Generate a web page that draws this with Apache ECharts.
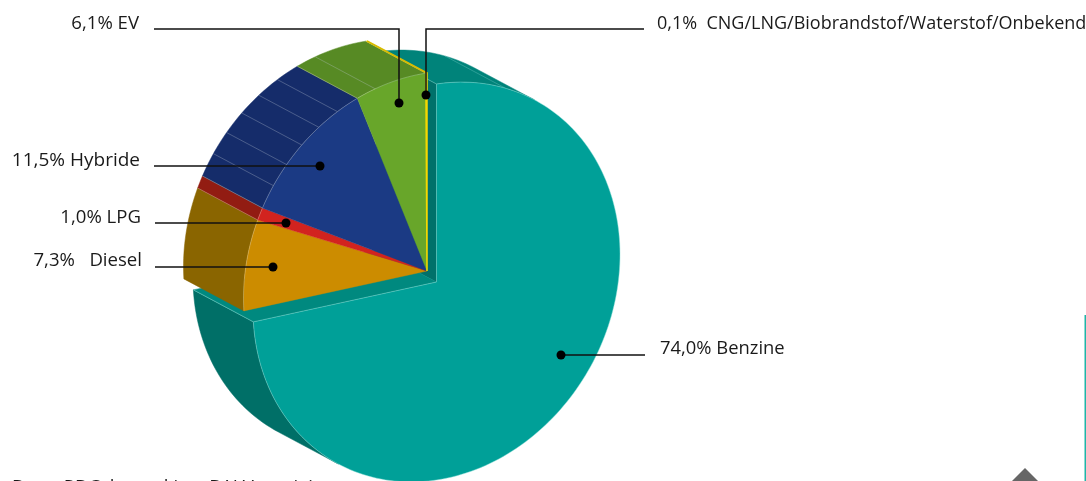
<!DOCTYPE html>
<html><head><meta charset="utf-8">
<style>html,body{margin:0;padding:0;background:#fff}#c{width:1086px;height:481px}</style>
<script src="https://cdn.jsdelivr.net/npm/echarts@6/dist/echarts.min.js"></script>
</head><body><div id="c"></div>
<script>
// Data
const categories = ['Benzine','Diesel','LPG','Hybride','EV','CNG/LNG/Biobrandstof/Waterstof/Onbekend'];
const shares = [74.0, 7.3, 1.0, 11.5, 6.1, 0.1];
const labels = ['74,0% Benzine','7,3%   Diesel','1,0% LPG','11,5% Hybride','6,1% EV','0,1%  CNG/LNG/Biobrandstof/Waterstof/Onbekend'];
const topColors = ['#00a098','#cc8c00','#d2231f','#1b3a84','#68a62a','#f5d800'];
const wallColors = ['#006f67','#8a6500','#921c12','#152c6a','#578a24','#d8bc00'];
const ribs = [[],[],[],[1/6,2/6,3/6,4/6,5/6],[0.27],[]];

// Projection of the tilted disc
const RX=183.5, RY=198, SK=27.5, DX=-60, DY=-32, C0=[427,271], C1=[436.5,282];
const rad=d=>d*Math.PI/180;
const pt=(c,t)=>[c[0]+RX*Math.sin(rad(t)), c[1]-RY*Math.cos(rad(t))-SK*Math.sin(rad(t))];
const shift=p=>[p[0]+DX,p[1]+DY];
const arc=(c,a,b)=>{const n=Math.max(2,Math.ceil(Math.abs(b-a)/1.5));const o=[];for(let i=0;i<=n;i++)o.push(pt(c,a+(b-a)*i/n));return o;};
const poly=(points,fill,stroke,w)=>({type:'polygon',shape:{points},style:{fill,stroke:stroke||fill,lineWidth:w===undefined?0.5:w}});
const line=(a,b,stroke,w)=>({type:'polyline',shape:{points:[a,b]},style:{fill:'none',stroke,lineWidth:w||0.8}});
const wall=(c,a,b,fill,stroke)=>{const f=arc(c,a,b);return poly(f.concat(f.map(shift).reverse()),fill,stroke);};
const total=shares.reduce((s,v)=>s+v,0);

function renderSlice(params,api){
  const i=params.dataIndex, v=api.value(0);
  let before=0; for(let k=0;k<i;k++) before+=shares[k];
  const a=before/total*360, b=(before+v)/total*360;
  const ch=[];
  if(i===0){
    const start=pt(C1,0), end=pt(C1,b);
    ch.push(poly([start,C1,shift(C1),shift(start)],'#00716a'));
    ch.push(wall(C1,0,32.3,'#00837a'));
    ch.push(wall(C1,212.3,b,wallColors[0]));
    ch.push(poly([C1,end,shift(end),shift(C1)],'#00897f'));
    ch.push(line(pt(C1,22),shift(pt(C1,22)),'rgba(120,210,200,.5)',0.7));
    ch.push(line(start,shift(start),'rgba(150,220,210,.6)',0.7));
    ch.push(line(end,shift(end),'rgba(150,225,215,.7)',0.7));
    ch.push(poly([C1].concat(arc(C1,a,b)),topColors[0],'rgba(140,225,215,.65)',0.7));
  } else {
    ch.push(wall(C0,a,b,wallColors[i]));
    ribs[i].forEach(f=>{const t=a+(b-a)*f;const p=pt(C0,t);ch.push(line(p,shift(p),'rgba(190,200,215,.45)',0.7));});
    if(i>1) ch.push(line(pt(C0,a),shift(pt(C0,a)),'rgba(235,225,190,.55)',0.6));
    if(i===5){
      ch.push(line(pt(C0,b),shift(pt(C0,b)),'#d8bc00',1.6));
      ch.push(poly([C0].concat(arc(C0,a,b)),topColors[i],topColors[i],1.5));
    } else {
      ch.push(poly([C0].concat(arc(C0,a,b)),topColors[i],topColors[i],0.4));
      ch.push({type:'polyline',shape:{points:arc(C0,a,b)},style:{fill:'none',stroke:'rgba(235,235,225,.45)',lineWidth:0.6}});
    }
  }
  return {type:'group',children:ch};
}

const leaders=[
  {i:4,tx:139,ty:24,size:18.6,align:'right',path:[[154,29],[399,29],[399,103]]},
  {i:5,tx:657,ty:24,size:18,align:'left',path:[[644,29],[426,29],[426,95]]},
  {i:3,tx:140,ty:161,size:19,align:'right',path:[[154,166],[320,166]]},
  {i:2,tx:141,ty:218,size:18.6,align:'right',path:[[155,223],[286,223]]},
  {i:1,tx:142,ty:261,size:18.6,align:'right',path:[[155,267],[273,267]]},
  {i:0,tx:660,ty:349,size:18.4,align:'left',path:[[645,355],[561,355]]}
];
const FONT='"Open Sans", sans-serif';
const gfx=[];
leaders.forEach(l=>{
  gfx.push({type:'polyline',z:20,silent:true,shape:{points:l.path},style:{fill:'none',stroke:'#111',lineWidth:1.5}});
  const e=l.path[l.path.length-1];
  gfx.push({type:'circle',z:21,silent:true,shape:{cx:e[0],cy:e[1],r:4.5},style:{fill:'#000'}});
  gfx.push({type:'text',z:22,silent:true,x:l.tx,y:l.ty,style:{text:labels[l.i],font:l.size+'px '+FONT,fill:'#1a1a1a',textAlign:l.align,textVerticalAlign:'middle'}});
});
gfx.push({type:'text',z:22,silent:true,x:12,y:488,style:{text:'Bron: RDC, bewerking: BAI Vereniging',font:'18.5px '+FONT,fill:'#1a1a1a',textAlign:'left',textVerticalAlign:'middle'}});
gfx.push({type:'rect',silent:true,shape:{x:1084.5,y:315,width:1.5,height:166},style:{fill:'#1fb5a8'}});
gfx.push({type:'polygon',silent:true,shape:{points:[[1025,468],[1038,481],[1012,481]]},style:{fill:'#666'}});

const chart=echarts.init(document.getElementById('c'),null,{renderer:'canvas',width:1086,height:481});
chart.setOption({
  animation:false,
  backgroundColor:'#fff',
  series:[{
    type:'custom',coordinateSystem:'none',silent:true,
    renderItem:renderSlice,
    data:categories.map((n,i)=>({name:n,value:[shares[i]]}))
  }],
  graphic:gfx
});
</script></body></html>
